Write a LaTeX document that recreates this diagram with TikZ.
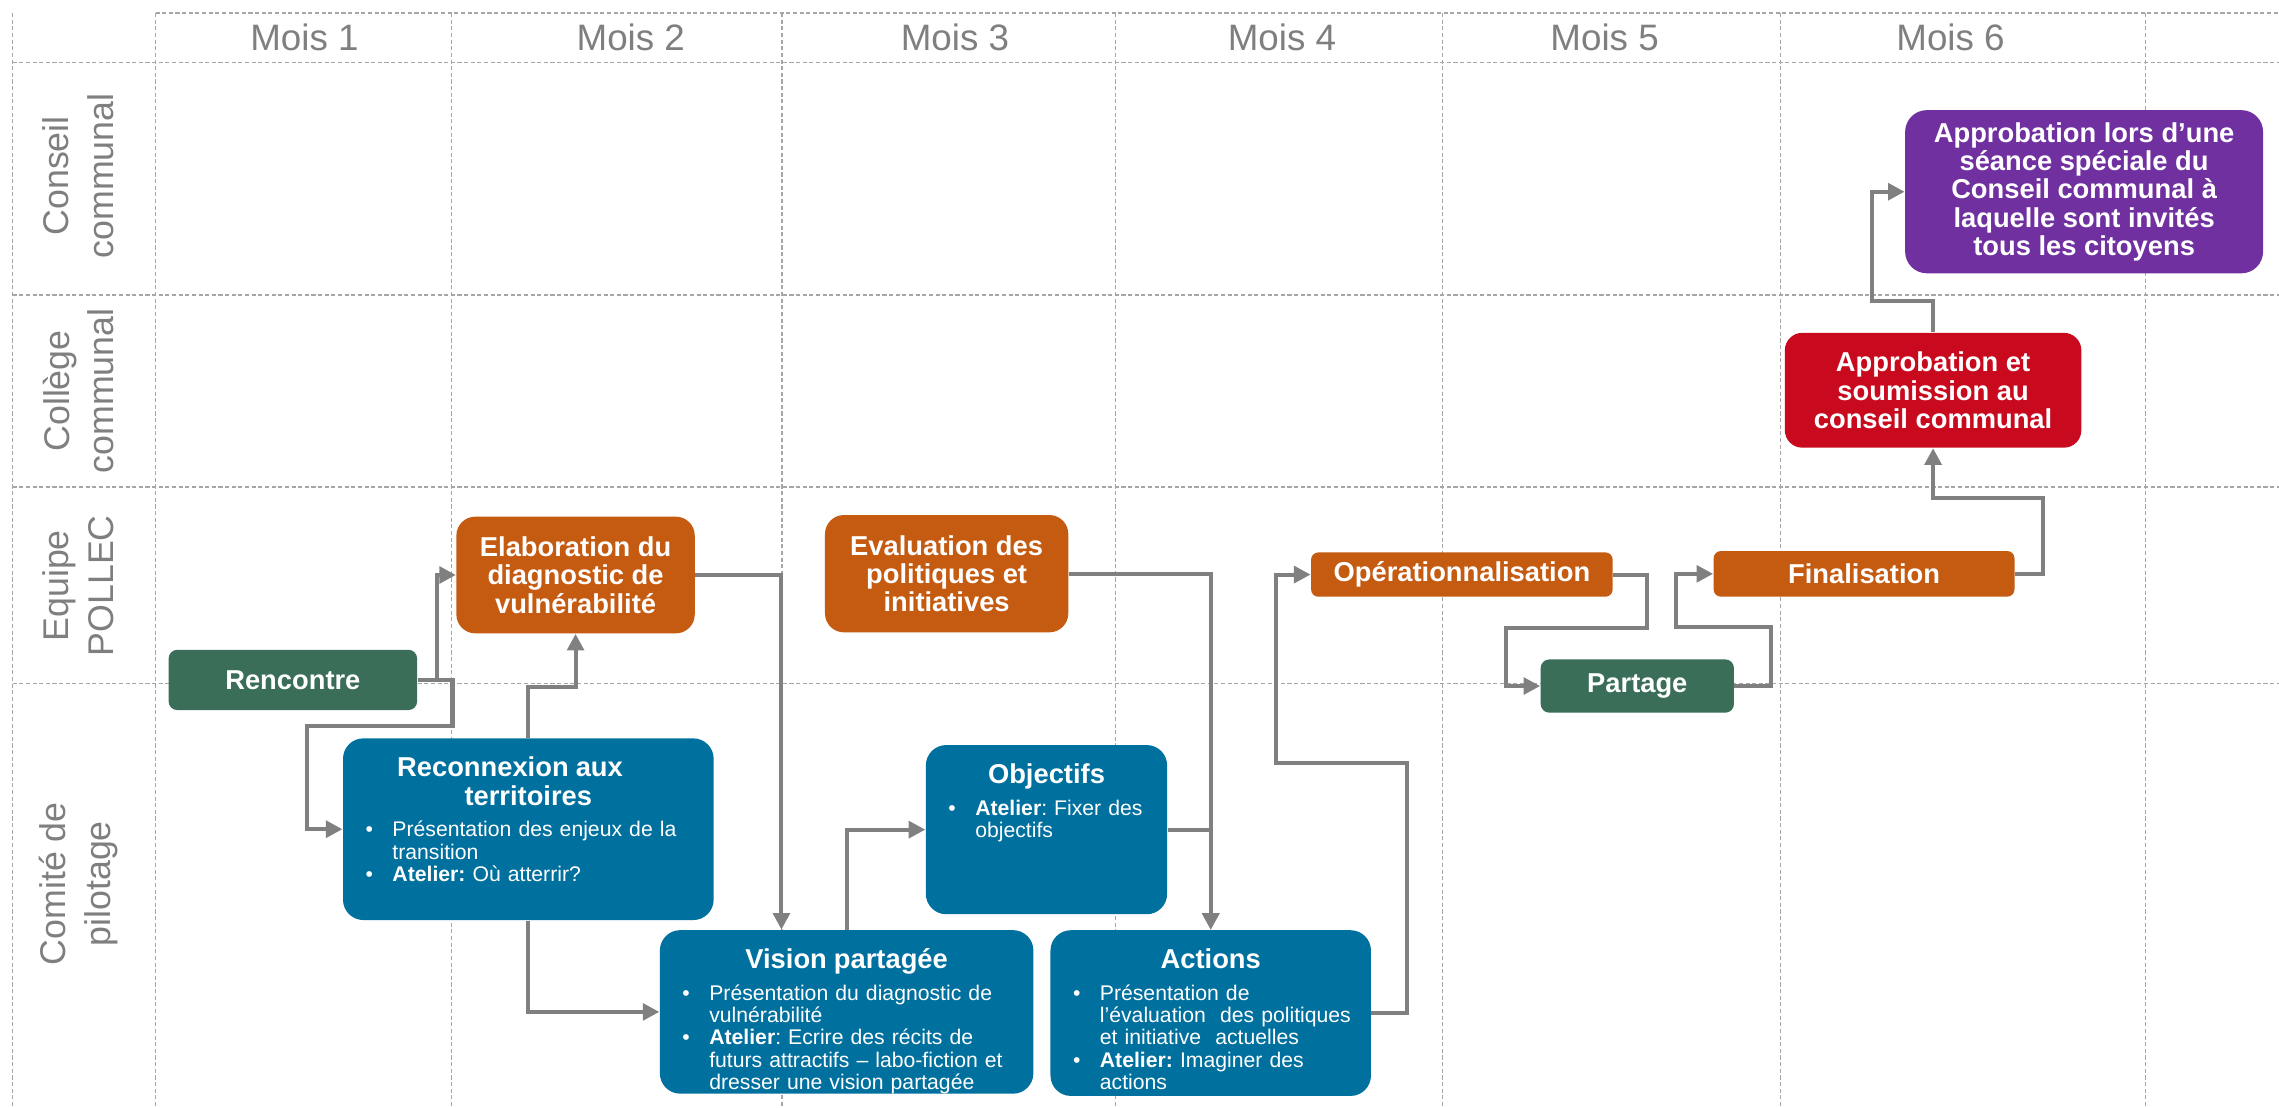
\documentclass[tikz,border=0pt]{standalone}
\usepackage{fontspec}
\setmainfont{Liberation Sans}
\usepackage{tikz}
\usetikzlibrary{arrows.meta}
\usetikzlibrary{calc}

\definecolor{vertpollec}{HTML}{3A6E58}
\definecolor{orangepollec}{HTML}{C55A11}
\definecolor{rougecollege}{HTML}{C8091E}
\definecolor{violetconseil}{HTML}{7030A0}
\definecolor{bleucomite}{HTML}{00709E}
\definecolor{fleche}{HTML}{808080}
\definecolor{grille}{HTML}{A6A6A6}
\definecolor{entete}{HTML}{7F7F7F}

\frenchspacing
\setlength{\lineskiplimit}{-\maxdimen}
\newcommand{\px}{0.02cm}
\newcommand{\titlefont}{\fontsize{10.7}{11.1}\selectfont\bfseries}
\newcommand{\bulletfont}{\fontsize{8.3}{8.7}\selectfont}
\newcommand{\boxtitle}[1]{{\centering\titlefont\rule{0pt}{15pt}#1\par}\vspace{3.8pt}}
\newcommand{\puce}[1]{\par\leftskip=0.44cm\noindent\llap{\makebox[0.44cm][l]{\hspace{0.07cm}\textbullet}}#1\par}

\tikzstyle{grid}=[draw=grille, line width=0.5pt, dash pattern=on 1.6pt off 1pt]
\tikzstyle{month}=[text=entete, font=\fontsize{14.4}{17}\selectfont]
\tikzstyle{rowlabel}=[text=entete, rotate=90, align=center, font=\fontsize{14}{17.5}\selectfont]
\tikzstyle{box}=[rectangle, inner sep=0pt, text=white, align=center, font=\titlefont]
\tikzstyle{bluebox}=[rectangle, inner sep=0pt, fill=bleucomite, rounded corners=0.28cm]
\tikzstyle{bluetext}=[anchor=north, inner sep=0pt, text=white, align=left, font=\bulletfont]
\tikzstyle{arrowedge}=[draw=fleche, line width=1.6pt, -{Triangle[length=6.5pt,width=6.5pt]}]

\begin{document}
\begin{tikzpicture}[x=0.02cm, y=-0.02cm]

  \useasboundingbox (0,0) rectangle (1568,762);

  % grille
  \draw[grid] (107,9) -- (1568,9);
  \foreach \y in {43, 203, 335, 470.2}
         \draw[grid] (8.7,\y) -- (1568,\y);
  \foreach \x in {8.7, 107, 310.8, 538, 767.5, 992.4, 1225, 1476}
         \draw[grid] (\x,9) -- (\x,762);

  \foreach \x/\m in {209.5/1, 434/2, 657/3, 882/4, 1104/5, 1342/6}
         \node[month] (mois\m) at (\x,26) {Mois \m};

  \foreach \y/\name/\txt in {121/conseil/{Conseil\\communal}, 269/college/{Collège\\communal},
                            403/equipe/{Equipe\\POLLEC}, 608/comite/{Comité de\\pilotage}}
         \node[rowlabel] (\name) at (54,\y) {\txt};

  % etapes
  \foreach \x/\y/\w/\h/\name/\fond/\r/\txt in {
        201.5/467.8/171/41.5/rencontre/vertpollec/0.12cm/{Rencontre},
        396/395.6/164/80.3/elaboration/orangepollec/0.26cm/{Elaboration du\\diagnostic de\\vulnérabilité},
        651.3/394.7/167.4/80.7/evaluation/orangepollec/0.26cm/{Evaluation des\\politiques et\\initiatives},
        1005.8/395.3/207.5/30.5/operational/orangepollec/0.1cm/{Opérationnalisation},
        1282.5/394.8/207/31.4/finalisation/orangepollec/0.1cm/{Finalisation},
        1126.5/472/133/36.7/partage/vertpollec/0.12cm/{Partage},
        1330/268.5/204/79/soumission/rougecollege/0.24cm/{Approbation et\\soumission au\\conseil communal},
        1433.9/131.9/246.3/112.3/seance/violetconseil/0.3cm/{Approbation lors d’une\\séance spéciale du\\Conseil communal à\\laquelle sont invités\\tous les citoyens}}
         \node[box, fill=\fond, rounded corners=\r, minimum width=\w*\px, minimum height=\h*\px] (\name) at (\x,\y) {\txt};

  \foreach \x/\y/\w/\h/\name in {363.5/570.5/255/125/reconnexion, 720/570.8/166/116.4/objectifs,
                                582.5/696.2/257/112.5/vision, 833/697/220.5/114/actions}
         \node[bluebox, minimum width=\w*\px, minimum height=\h*\px] (\name) at (\x,\y) {};

  \node[bluetext, text width=4.62cm] (reconnexion-txt) at (reconnexion.north) {%
      \boxtitle{Reconnexion aux\newline territoires}%
      \puce{Présentation des enjeux de la\newline transition}%
      \puce{\textbf{Atelier:} Où atterrir?}};
  \node[bluetext, text width=2.84cm] (objectifs-txt) at (objectifs.north) {%
      \boxtitle{Objectifs}%
      \puce{\textbf{Atelier}: Fixer des\newline objectifs}};
  \node[bluetext, text width=4.66cm] (vision-txt) at (vision.north) {%
      \boxtitle{Vision partagée}%
      \puce{Présentation du diagnostic de\newline vulnérabilité}%
      \puce{\textbf{Atelier}: Ecrire des récits de\newline futurs attractifs – labo-fiction et\newline dresser une vision partagée}};
  \node[bluetext, text width=3.93cm] (actions-txt) at (actions.north) {%
      \boxtitle{Actions}%
      \puce{Présentation de\newline l’évaluation\ \ des politiques\newline et initiative\ \ actuelles}%
      \puce{\textbf{Atelier:} Imaginer des\newline actions}};

  % liens
  \draw[arrowedge] (rencontre.east) -- ++(13,0) |- (elaboration.west);
  \draw[arrowedge] (rencontre.east) -- ++(24,0) -- ++(0,32) -- ++(-100,0) |- (reconnexion.west);
  \draw[arrowedge] (reconnexion.north) -- ++(0,-35) -| (elaboration.south);
  \draw[arrowedge] (reconnexion.south) |- (vision.west);
  \draw[arrowedge] (elaboration.east) -| ($(vision.north west)+(84,0)$);
  \draw[arrowedge] (vision.north) |- (objectifs.west);
  \draw[arrowedge] (objectifs.east) -| (actions.north);
  \draw[arrowedge] (evaluation.east) -| (actions.north);
  \draw[arrowedge] (actions.east) -- ++(24.5,0) -- ++(0,-172) -- ++(-90.3,0) |- (operational.west);
  \draw[arrowedge] (operational.east) -- ++(23.5,0) -- ++(0,37) -- ++(-97.5,0) |- (partage.west);
  \draw[arrowedge] (partage.east) -- ++(25,0) -- ++(0,-40.8) -- ++(-65,0) |- (finalisation.west);
  \draw[arrowedge] (finalisation.east) -- ++(19,0) -- ++(0,-52) -| (soumission.south);
  \draw[arrowedge] (soumission.north) -- ++(0,-21.5) -- ++(-42.2,0) |- (seance.west);

\end{tikzpicture}
\end{document}
